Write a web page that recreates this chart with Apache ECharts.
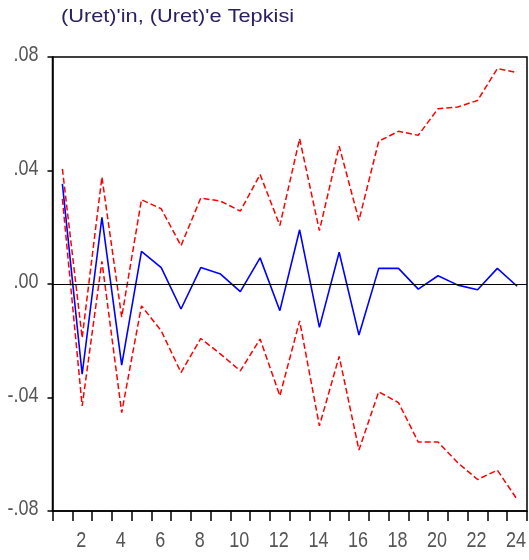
<!DOCTYPE html>
<html>
<head>
<meta charset="utf-8">
<script src="https://cdn.jsdelivr.net/npm/echarts@6/dist/echarts.min.js"></script>
<style>html,body{margin:0;padding:0;background:#fff}#c{width:529px;height:560px}</style>
</head>
<body>
<div id="c"></div>
<script>
var categories = ["1","2","3","4","5","6","7","8","9","10","11","12","13","14","15","16","17","18","19","20","21","22","23","24"];
var response = [0.0353,-0.0318,0.0235,-0.0286,0.0115,0.0058,-0.0088,0.0058,0.0035,-0.0027,0.0092,-0.0094,0.0191,-0.0153,0.0112,-0.0180,0.0055,0.0055,-0.0018,0.0029,-0.0004,-0.0020,0.0055,-0.0008];
var upperBand = [0.0406,-0.0190,0.0377,-0.0117,0.0297,0.0265,0.0135,0.0303,0.0292,0.0257,0.0386,0.0206,0.0512,0.0188,0.0486,0.0224,0.0503,0.0538,0.0524,0.0618,0.0624,0.0647,0.0759,0.0745];
var lowerBand = [0.0300,-0.0430,0.0080,-0.0453,-0.0077,-0.0165,-0.0312,-0.0192,-0.0247,-0.0306,-0.0194,-0.0394,-0.0130,-0.0500,-0.0255,-0.0585,-0.0380,-0.0418,-0.0557,-0.0557,-0.0630,-0.0689,-0.0656,-0.0759];
var yTicks = [-0.08,-0.04,0,0.04,0.08];
var yTickLabels = ["-.08","-.04",".00",".04",".08"];
var xTickLabels = ["2","4","6","8","10","12","14","16","18","20","22","24"];
var titleText = "(Uret)'in, (Uret)'e Tepkisi";

var labelFont = "18px 'Liberation Sans', Arial, sans-serif";
var chart = echarts.init(document.getElementById('c'), null, {renderer:'canvas'});
var gridLeft = 52.5, gridBottom = 49;
chart.setOption({
  animation:false,
  grid:{left:gridLeft,right:2,top:57,bottom:gridBottom,show:true,borderColor:'#000',borderWidth:1.5,backgroundColor:'transparent'},
  xAxis:{type:'category',data:categories,boundaryGap:true,
    axisLine:{onZero:false,lineStyle:{color:'#000',width:1.5}},
    axisTick:{show:true,interval:0,length:10,inside:false,lineStyle:{color:'#000',width:1.5}},
    axisLabel:{show:false},
    splitLine:{show:false}},
  yAxis:{type:'value',min:yTicks[0],max:yTicks[yTicks.length-1],interval:0.04,
    axisLine:{show:true,lineStyle:{color:'#000',width:1.5}},
    axisTick:{show:true,length:5,lineStyle:{color:'#000',width:1.5}},
    axisLabel:{show:false},
    splitLine:{show:false}},
  series:[
    {name:'upper',type:'line',data:upperBand,symbol:'none',lineStyle:{color:'#ff0000',width:1.5,type:[6,3]},z:3},
    {name:'lower',type:'line',data:lowerBand,symbol:'none',lineStyle:{color:'#ff0000',width:1.5,type:[6,3]},z:3},
    {name:'response',type:'line',data:response,symbol:'none',lineStyle:{color:'#0000ff',width:1.6},z:4,
      markLine:{silent:true,symbol:'none',label:{show:false},lineStyle:{color:'#000',width:1.2,type:'solid'},data:[{yAxis:0}]}}
  ]
});

var elements = [];
elements.push({type:'text',x:61,y:17,scaleX:1.17,scaleY:1,
  style:{text:titleText,font:"18.6px 'Liberation Sans', Arial, sans-serif",fill:'#2d2060',align:'left',verticalAlign:'middle'}});
for (var i=0;i<yTicks.length;i++){
  var py = chart.convertToPixel({yAxisIndex:0}, yTicks[i]);
  elements.push({type:'text',x:gridLeft-14,y:py-2,scaleY:1.22,
    style:{text:yTickLabels[i],font:labelFont,fill:'#555',align:'right',verticalAlign:'middle'}});
}
var axisY = chart.convertToPixel({yAxisIndex:0}, yTicks[0]);
for (var j=0;j<xTickLabels.length;j++){
  var px = chart.convertToPixel({xAxisIndex:0}, xTickLabels[j]);
  elements.push({type:'text',x:px-1,y:axisY+30,scaleY:1.22,
    style:{text:xTickLabels[j],font:labelFont,fill:'#555',align:'center',verticalAlign:'middle'}});
}
chart.setOption({graphic:{elements:elements}});
</script>
</body>
</html>
